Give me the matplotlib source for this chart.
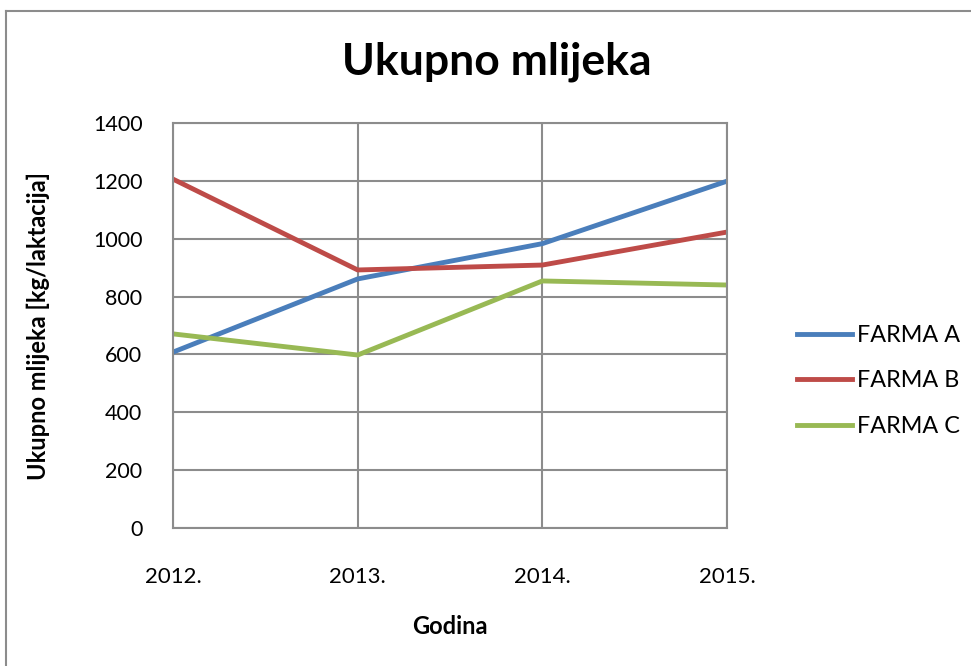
import matplotlib.pyplot as plt
from matplotlib.lines import Line2D

plt.rcParams['font.family'] = ['Lato', 'DejaVu Sans']

# data
godine = ["2012.", "2013.", "2014.", "2015."]
farma_a = [608, 861, 983, 1199]
farma_b = [1206, 892, 909, 1023]
farma_c = [671, 598, 854, 840]
y_ticks = [0, 200, 400, 600, 800, 1000, 1200, 1400]

fig = plt.figure(figsize=(9.71, 6.66), dpi=100)
ax = fig.add_axes([0.1782, 0.2072, 0.5705, 0.6081])

x = range(len(godine))
ax.plot(x, farma_a, color="#4A7EBB", lw=3.5, label="FARMA A")
ax.plot(x, farma_b, color="#BE4B48", lw=3.5, label="FARMA B")
ax.plot(x, farma_c, color="#98B954", lw=3.5, label="FARMA C")

ax.set_xlim(0, 3)
ax.set_ylim(0, 1400)
ax.set_xticks(list(x))
ax.set_xticklabels(godine, fontsize=16)
ax.set_yticks(y_ticks)
ax.set_yticklabels([str(v) for v in y_ticks], fontsize=15.5)
ax.tick_params(axis="x", length=0, pad=28)
ax.tick_params(axis="y", length=0, pad=22)
ax.grid(True, color="#8c8c8c", lw=1.5)
ax.set_axisbelow(True)
for s in ax.spines.values():
    s.set_color("#8c8c8c")
    s.set_linewidth(1.5)

ax.set_xlabel("Godina", fontsize=17, fontweight="bold", labelpad=20)
ax.set_ylabel("Ukupno mlijeka [kg/laktacija]", fontsize=17, fontweight="bold", labelpad=31)
fig.text(0.512, 0.907, "Ukupno mlijeka", fontsize=32, fontweight="bold",
         ha="center", va="center")

ax.legend(loc="center left", bbox_to_anchor=(1.126, 0.363), frameon=False,
          fontsize=16.8, handlelength=2.36, handletextpad=0.22, labelspacing=1.05,
          borderpad=0, borderaxespad=0)

# outer chart border
fig.add_artist(Line2D([0.006, 0.006], [0, 0.984], color="#8c8c8c", lw=1.5))
fig.add_artist(Line2D([0.006, 1], [0.984, 0.984], color="#8c8c8c", lw=1.5))

fig.savefig("out.png", dpi=100)
